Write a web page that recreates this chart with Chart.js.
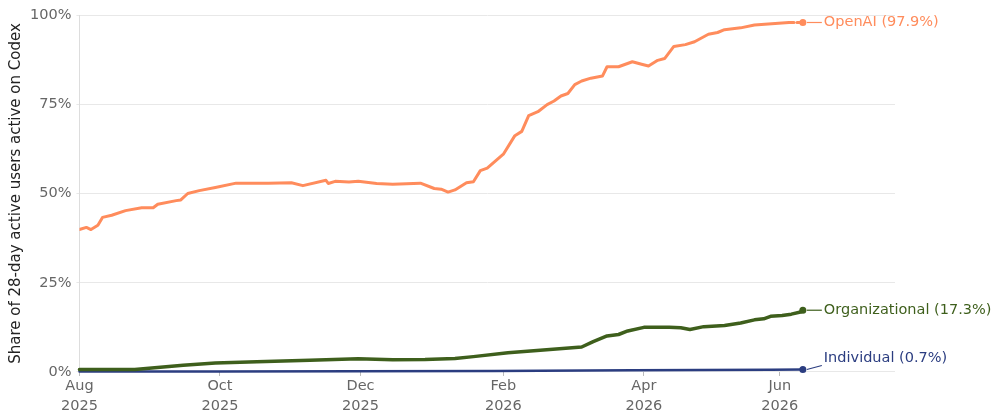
<!DOCTYPE html>
<html>
<head>
<meta charset="utf-8">
<script src="https://cdn.jsdelivr.net/npm/chart.js@4"></script>
<style>
    html, body { margin: 0; padding: 0; background: #fff; }
    #wrap { width: 1000px; height: 420px; }
</style>
</head>
<body>
<div id="wrap"><canvas id="codexChart"></canvas></div>
<script>
// days counted from 2025-08-01
const openaiDays = [0, 3, 5, 8, 10, 14, 20, 27, 32, 34, 42, 44, 47, 52, 59, 68, 82, 92, 97, 107,
    108, 111, 117, 121, 129, 136, 148, 154, 157, 160, 163, 168, 171, 174, 177, 182, 184, 189, 192, 195,
    199, 203, 206, 209, 212, 215, 218, 222, 227, 229, 234, 240, 244, 247, 251, 254, 258, 263, 267, 273,
    277, 280, 287, 293, 302, 308, 314];
const openaiShare = [39.9, 40.5, 39.9, 41.1, 43.3, 43.9, 45.2, 46.0, 46.0, 47.0, 48.0, 48.2, 50.0, 50.8, 51.7, 52.9, 52.9, 53.0, 52.2, 53.7,
    52.8, 53.4, 53.2, 53.4, 52.8, 52.6, 52.9, 51.4, 51.2, 50.4, 51.0, 53.0, 53.3, 56.4, 57.1, 59.9, 61.0, 66.2, 67.4, 71.8,
    72.9, 74.9, 75.9, 77.3, 78.0, 80.5, 81.5, 82.3, 82.9, 85.5, 85.5, 86.9, 86.2, 85.7, 87.3, 87.8, 91.2, 91.7, 92.5, 94.6,
    95.1, 95.9, 96.4, 97.2, 97.6, 97.9, 97.9];

const orgDays = [0, 24, 45, 59, 77, 100, 121, 136, 150, 163, 171, 186, 200, 218, 223, 229, 234, 238, 245, 256,
    261, 265, 271, 280, 287, 293, 297, 300, 305, 309, 313, 314];
const orgShare = [0.7, 0.7, 1.9, 2.5, 2.9, 3.3, 3.7, 3.4, 3.5, 3.8, 4.3, 5.4, 6.1, 7.0, 8.5, 10.1, 10.5, 11.5, 12.5, 12.5,
    12.4, 11.9, 12.7, 13.0, 13.7, 14.6, 14.9, 15.6, 15.8, 16.2, 16.8, 17.3];

const indivDays = [0, 60, 120, 180, 240, 300, 314];
const indivShare = [0.1, 0.15, 0.2, 0.3, 0.45, 0.6, 0.7];

const monthTicks = [0, 61, 122, 184, 245, 304];
const monthLabels = [['Aug', '2025'], ['Oct', '2025'], ['Dec', '2025'], ['Feb', '2026'], ['Apr', '2026'], ['Jun', '2026']];

const seriesNames = ['OpenAI', 'Organizational', 'Individual'];
const seriesColors = ['#ff8c5c', '#3e5f1c', '#2b3d80'];

const dashFrom = 308;

function toPoints(days, values) {
    return days.map((d, i) => ({ x: d, y: values[i] }));
}

// dot at the last point plus a short leader line and a label
const endLabels = {
    id: 'endLabels',
    afterDatasetsDraw(chart) {
        const ctx = chart.ctx;
        const offsets = [0, 0, -11];
        chart.data.datasets.forEach((ds, i) => {
            const meta = chart.getDatasetMeta(i);
            const last = meta.data[meta.data.length - 1];
            const value = ds.data[ds.data.length - 1].y;
            const color = seriesColors[i];
            ctx.save();
            ctx.fillStyle = color;
            ctx.strokeStyle = color;
            ctx.beginPath();
            ctx.arc(last.x, last.y, 3.5, 0, Math.PI * 2);
            ctx.fill();
            const ty = last.y + offsets[i];
            ctx.lineWidth = 1.2;
            ctx.beginPath();
            ctx.moveTo(last.x + 4, last.y);
            ctx.lineTo(last.x + 19, ty + (offsets[i] ? 7 : 0));
            ctx.stroke();
            ctx.font = '14.5px "DejaVu Sans"';
            ctx.textBaseline = 'middle';
            ctx.fillText(seriesNames[i] + ' (' + value.toFixed(1) + '%)', last.x + 21, ty);
            ctx.restore();
        });
    }
};

function initializeChart() {
    Chart.defaults.font.family = '"DejaVu Sans"';
    Chart.defaults.font.size = 14.5;
    Chart.defaults.color = '#666';

    new Chart(document.getElementById('codexChart'), {
        type: 'line',
        data: {
            datasets: [
                {
                    label: seriesNames[0],
                    data: toPoints(openaiDays, openaiShare),
                    borderColor: seriesColors[0],
                    borderWidth: 3,
                    segment: {
                        borderDash: (c) => (c.p0.parsed.x >= dashFrom ? [5, 3] : undefined)
                    }
                },
                {
                    label: seriesNames[1],
                    data: toPoints(orgDays, orgShare),
                    borderColor: seriesColors[1],
                    borderWidth: 3.5,
                    clip: false
                },
                {
                    label: seriesNames[2],
                    data: toPoints(indivDays, indivShare),
                    borderColor: seriesColors[2],
                    borderWidth: 2.5,
                    clip: false
                }
            ]
        },
        options: {
            responsive: true,
            maintainAspectRatio: false,
            animation: false,
            layout: { padding: { top: 15, right: 105, bottom: 4, left: 1 } },
            elements: {
                point: { radius: 0 },
                line: { tension: 0, borderCapStyle: 'round', borderJoinStyle: 'round' }
            },
            plugins: {
                legend: { display: false },
                tooltip: { enabled: false }
            },
            scales: {
                x: {
                    type: 'linear',
                    min: 0,
                    max: 354,
                    afterBuildTicks: (axis) => {
                        axis.ticks = monthTicks.map((v) => ({ value: v }));
                    },
                    ticks: {
                        autoSkip: false,
                        maxRotation: 0,
                        padding: 0,
                        font: { lineHeight: 1.38 },
                        callback: (v) => monthLabels[monthTicks.indexOf(v)]
                    },
                    grid: { drawOnChartArea: false, drawTicks: true, tickLength: 4, color: '#bbb' },
                    border: { display: false }
                },
                y: {
                    min: 0,
                    max: 100,
                    ticks: {
                        stepSize: 25,
                        padding: 5,
                        callback: (v) => v + '%'
                    },
                    grid: { color: '#e8e8e8', tickLength: 3 },
                    border: { color: '#ddd' },
                    title: {
                        display: true,
                        text: 'Share of 28-day active users active on Codex',
                        color: '#222',
                        font: { size: 15 },
                        padding: { top: 6, bottom: 0 }
                    }
                }
            }
        },
        plugins: [endLabels]
    });
}

document.addEventListener('DOMContentLoaded', initializeChart);
</script>
</body>
</html>
